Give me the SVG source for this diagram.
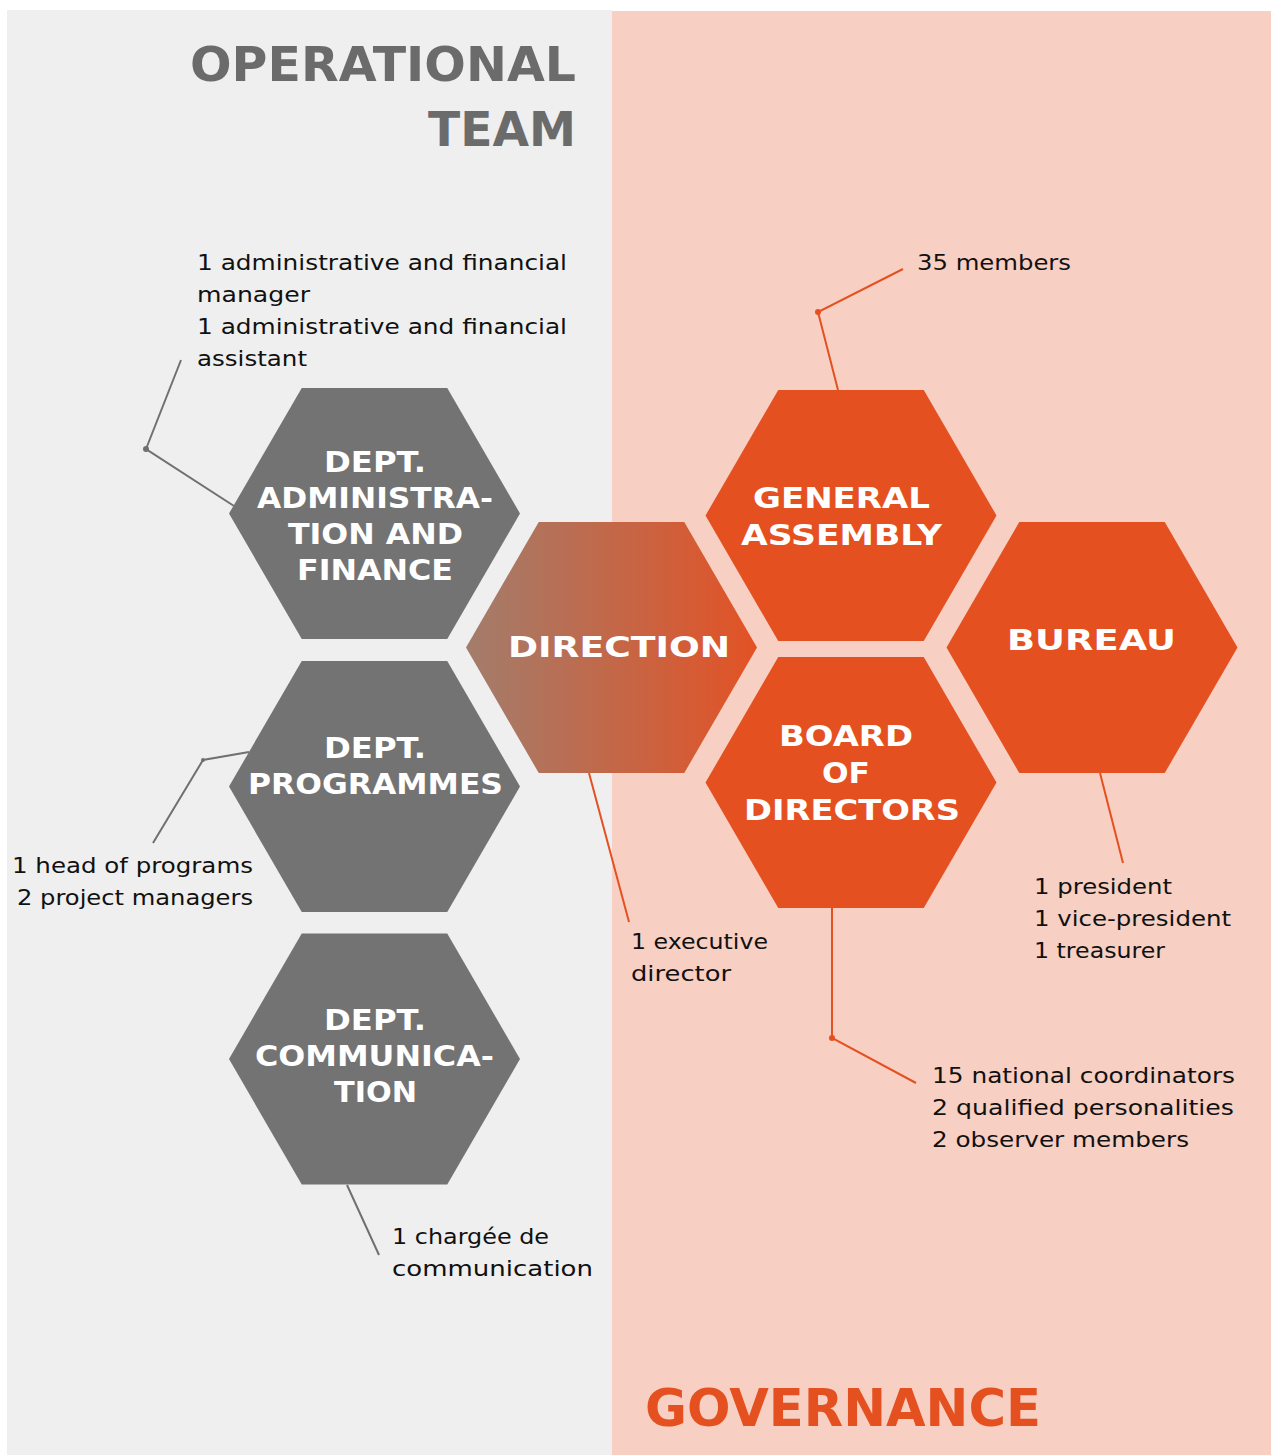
<svg xmlns="http://www.w3.org/2000/svg" width="1271" height="1455" viewBox="0 0 1271 1455">
<style>
.title{font-family:"DejaVu Sans",sans-serif;font-weight:bold;}
.hl{font-family:"DejaVu Sans",sans-serif;font-weight:bold;font-size:29px;fill:#ffffff;}
.note{font-family:"DejaVu Sans",sans-serif;font-size:21px;fill:#111111;}
.gray{fill:#737373;}
.orange{fill:#e55020;}
.cg{stroke:#707070;stroke-width:2;fill:none;}
.co{stroke:#e55020;stroke-width:2;fill:none;}
</style>
<defs>
<linearGradient id="dirGrad" x1="0" y1="0" x2="1" y2="0">
<stop offset="0" stop-color="#a27d6c"/>
<stop offset="1" stop-color="#e35225"/>
</linearGradient>
</defs>
<rect x="0" y="0" width="1271" height="1455" fill="#ffffff"/>
<rect x="7" y="10" width="605" height="1445" fill="#efefef"/>
<rect x="612" y="11" width="659" height="1444" fill="#f7cfc3"/>
<text class="title" x="190" y="81" font-size="48" fill="#6b6b6b" textLength="386" lengthAdjust="spacingAndGlyphs">OPERATIONAL</text>
<text class="title" x="428" y="146" font-size="48" fill="#6b6b6b" textLength="148" lengthAdjust="spacingAndGlyphs">TEAM</text>
<text class="title" x="645" y="1426" font-size="52" fill="#e55020" textLength="396" lengthAdjust="spacingAndGlyphs">GOVERNANCE</text>

<g id="connectors">
<polyline class="cg" points="181,360 146,449 234,506"/>
<circle cx="146" cy="449" r="3" fill="#707070"/>
<polyline class="cg" points="153,843 203,760 249,752"/>
<circle cx="203" cy="760" r="2" fill="#707070"/>
<line class="cg" x1="347" y1="1185" x2="379" y2="1255"/>
<line class="co" x1="589" y1="773" x2="629" y2="922"/>
<polyline class="co" points="838,390 818,312 903,269"/>
<circle cx="818" cy="312" r="3" fill="#e55020"/>
<line class="co" x1="1100" y1="773" x2="1123" y2="863"/>
<polyline class="co" points="832,908 832,1038 916,1083"/>
<circle cx="832" cy="1038" r="3" fill="#e55020"/>
</g>

<g id="dept-admin">
<polygon class="gray" points="229,513.5 301.75,388 447.25,388 520,513.5 447.25,639 301.75,639"/>
<text class="hl" x="324" y="472" textLength="102" lengthAdjust="spacingAndGlyphs">DEPT.</text>
<text class="hl" x="257" y="508" textLength="236" lengthAdjust="spacingAndGlyphs">ADMINISTRA-</text>
<text class="hl" x="288" y="544" textLength="175" lengthAdjust="spacingAndGlyphs">TION AND</text>
<text class="hl" x="297" y="580" textLength="156" lengthAdjust="spacingAndGlyphs">FINANCE</text>
</g>
<g id="dept-programmes">
<polygon class="gray" points="229,786.5 301.75,661 447.25,661 520,786.5 447.25,912 301.75,912"/>
<text class="hl" x="324" y="758" textLength="102" lengthAdjust="spacingAndGlyphs">DEPT.</text>
<text class="hl" x="248" y="794" textLength="255" lengthAdjust="spacingAndGlyphs">PROGRAMMES</text>
</g>
<g id="dept-communication">
<polygon class="gray" points="229,1059 301.75,933.5 447.25,933.5 520,1059 447.25,1184.5 301.75,1184.5"/>
<text class="hl" x="324" y="1030" textLength="102" lengthAdjust="spacingAndGlyphs">DEPT.</text>
<text class="hl" x="255" y="1066" textLength="239" lengthAdjust="spacingAndGlyphs">COMMUNICA-</text>
<text class="hl" x="334" y="1102" textLength="83" lengthAdjust="spacingAndGlyphs">TION</text>
</g>
<g id="direction">
<polygon fill="url(#dirGrad)" points="466,647.5 538.75,522 684.25,522 757,647.5 684.25,773 538.75,773"/>
<text class="hl" x="508" y="657" font-size="34" textLength="222" lengthAdjust="spacingAndGlyphs">DIRECTION</text>
</g>
<g id="general-assembly">
<polygon class="orange" points="705.5,515.5 778.25,390 923.75,390 996.5,515.5 923.75,641 778.25,641"/>
<text class="hl" x="753" y="508" textLength="177" lengthAdjust="spacingAndGlyphs">GENERAL</text>
<text class="hl" x="741" y="545" textLength="201" lengthAdjust="spacingAndGlyphs">ASSEMBLY</text>
</g>
<g id="bureau">
<polygon class="orange" points="946.5,647.5 1019.25,522 1164.75,522 1237.5,647.5 1164.75,773 1019.25,773"/>
<text class="hl" x="1007" y="650" font-size="32" textLength="169" lengthAdjust="spacingAndGlyphs">BUREAU</text>
</g>
<g id="board">
<polygon class="orange" points="705.5,782.5 778.25,657 923.75,657 996.5,782.5 923.75,908 778.25,908"/>
<text class="hl" x="779" y="746" textLength="134" lengthAdjust="spacingAndGlyphs">BOARD</text>
<text class="hl" x="822" y="783" textLength="48" lengthAdjust="spacingAndGlyphs">OF</text>
<text class="hl" x="744" y="820" textLength="216" lengthAdjust="spacingAndGlyphs">DIRECTORS</text>
</g>

<g id="notes">
<text class="note" x="197" y="270" textLength="370" lengthAdjust="spacingAndGlyphs">1 administrative and financial</text>
<text class="note" x="197" y="302" textLength="113" lengthAdjust="spacingAndGlyphs">manager</text>
<text class="note" x="197" y="334" textLength="370" lengthAdjust="spacingAndGlyphs">1 administrative and financial</text>
<text class="note" x="197" y="366" textLength="110" lengthAdjust="spacingAndGlyphs">assistant</text>
<text class="note" x="12" y="873" textLength="241" lengthAdjust="spacingAndGlyphs">1 head of programs</text>
<text class="note" x="17" y="905" textLength="236" lengthAdjust="spacingAndGlyphs">2 project managers</text>
<text class="note" x="392" y="1244" textLength="157" lengthAdjust="spacingAndGlyphs">1 chargée de</text>
<text class="note" x="392" y="1276" textLength="201" lengthAdjust="spacingAndGlyphs">communication</text>
<text class="note" x="631" y="949" textLength="137" lengthAdjust="spacingAndGlyphs">1 executive</text>
<text class="note" x="631" y="981" textLength="100" lengthAdjust="spacingAndGlyphs">director</text>
<text class="note" x="917" y="270" textLength="154" lengthAdjust="spacingAndGlyphs">35 members</text>
<text class="note" x="1034" y="894" textLength="138" lengthAdjust="spacingAndGlyphs">1 president</text>
<text class="note" x="1034" y="926" textLength="197" lengthAdjust="spacingAndGlyphs">1 vice-president</text>
<text class="note" x="1034" y="958" textLength="131" lengthAdjust="spacingAndGlyphs">1 treasurer</text>
<text class="note" x="932" y="1083" textLength="303" lengthAdjust="spacingAndGlyphs">15 national coordinators</text>
<text class="note" x="932" y="1115" textLength="302" lengthAdjust="spacingAndGlyphs">2 qualified personalities</text>
<text class="note" x="932" y="1147" textLength="257" lengthAdjust="spacingAndGlyphs">2 observer members</text>
</g>
</svg>
